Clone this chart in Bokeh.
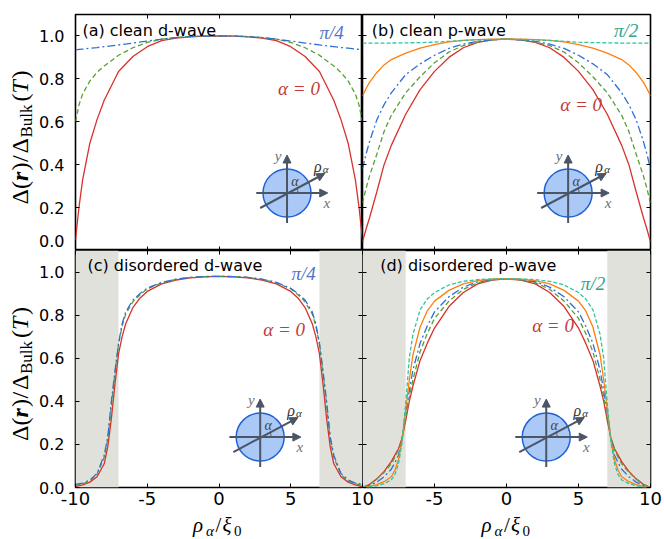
import math
from bokeh.plotting import figure
from bokeh.layouts import column, row
from bokeh.models import (Label, Arrow, NormalHead, LinearAxis, FixedTicker, Range1d,
                          NumeralTickFormatter)
from bokeh.embed import file_html
from bokeh.resources import INLINE

# ---------------------------------------------------------------------------
# Order-parameter profiles Delta(r)/Delta_Bulk(T) along rho_alpha/xi_0.
# Values are listed for rho <= 0; the profiles are symmetric about rho = 0.
# ---------------------------------------------------------------------------
rho_clean = [-10, -9.75, -9.5, -9, -8.5, -8, -7, -6, -5, -4, -3, -2, -1, 0]

# (a) clean d-wave: alpha = 0, pi/8, pi/4
clean_d_a0 = [0.05, 0.206, 0.33, 0.50, 0.61, 0.70, 0.834, 0.904, 0.95, 0.978, 0.99, 0.996, 0.999, 1.0]
clean_d_a1 = [0.60, 0.68, 0.73, 0.79, 0.83, 0.86, 0.91, 0.945, 0.97, 0.985, 0.993, 0.998, 1.0, 1.0]
clean_d_a2 = [0.935, 0.937, 0.939, 0.943, 0.946, 0.95, 0.958, 0.967, 0.976, 0.985, 0.992, 0.997, 0.999, 1.0]

# (b) clean p-wave: alpha = 0, pi/8, pi/4, 3pi/8, pi/2
clean_p_a0 = [0.04, 0.10, 0.155, 0.275, 0.40, 0.49, 0.635, 0.75, 0.835, 0.90, 0.945, 0.97, 0.982, 0.985]
clean_p_a1 = [0.22, 0.29, 0.35, 0.45, 0.555, 0.63, 0.735, 0.81, 0.875, 0.925, 0.955, 0.972, 0.982, 0.985]
clean_p_a2 = [0.38, 0.45, 0.51, 0.61, 0.68, 0.735, 0.82, 0.87, 0.91, 0.942, 0.962, 0.975, 0.982, 0.985]
clean_p_a3 = [0.72, 0.755, 0.785, 0.83, 0.865, 0.89, 0.92, 0.943, 0.96, 0.972, 0.979, 0.983, 0.985, 0.985]
clean_p_a4 = [0.967, 0.967, 0.967, 0.967, 0.967, 0.967, 0.968, 0.969, 0.971, 0.975, 0.979, 0.982, 0.984, 0.985]

rho_dirty = [-10, -9.5, -9, -8.5, -8, -7.75, -7.5, -7.25, -7, -6.75, -6.5, -6, -5.5, -5, -4, -3, -2, -1, 0]

# (c) disordered d-wave: alpha = 0, pi/8, pi/4
dirty_d_a0 = [0.004, 0.012, 0.025, 0.05, 0.11, 0.19, 0.32, 0.48, 0.62, 0.70, 0.76, 0.835, 0.88, 0.91, 0.945, 0.963, 0.973, 0.978, 0.98]
dirty_d_a1 = [0.01, 0.017, 0.03, 0.06, 0.14, 0.225, 0.38, 0.53, 0.665, 0.75, 0.805, 0.862, 0.895, 0.922, 0.95, 0.966, 0.975, 0.979, 0.98]
dirty_d_a2 = [0.015, 0.02, 0.035, 0.065, 0.15, 0.235, 0.40, 0.54, 0.67, 0.76, 0.815, 0.87, 0.90, 0.925, 0.952, 0.967, 0.975, 0.979, 0.98]

# (d) disordered p-wave: alpha = 0, pi/8, pi/4, 3pi/8, pi/2
dirty_p_a0 = [0.0, 0.015, 0.04, 0.075, 0.12, 0.15, 0.18, 0.23, 0.31, 0.40, 0.47, 0.59, 0.67, 0.74, 0.84, 0.905, 0.945, 0.963, 0.968]
dirty_p_a1 = [0.0, 0.015, 0.04, 0.07, 0.11, 0.14, 0.175, 0.23, 0.32, 0.42, 0.50, 0.63, 0.715, 0.785, 0.865, 0.92, 0.95, 0.964, 0.968]
dirty_p_a2 = [0.0, 0.01, 0.025, 0.05, 0.085, 0.115, 0.15, 0.225, 0.35, 0.45, 0.545, 0.67, 0.75, 0.815, 0.885, 0.93, 0.955, 0.965, 0.968]
dirty_p_a3 = [0.0, 0.005, 0.013, 0.027, 0.05, 0.08, 0.13, 0.22, 0.36, 0.50, 0.615, 0.745, 0.82, 0.865, 0.915, 0.945, 0.96, 0.967, 0.969]
dirty_p_a4 = [0.0, 0.003, 0.008, 0.018, 0.035, 0.06, 0.11, 0.21, 0.39, 0.60, 0.71, 0.825, 0.875, 0.905, 0.94, 0.957, 0.965, 0.968, 0.969]

# grey bands of the disordered panels (|rho| > 7)
band_left = [-10, 7]
band_right = [-7, 10]

x_ticks = [-10, -5, 0, 5, 10]
y_ticks = [0.0, 0.2, 0.4, 0.6, 0.8, 1.0]

# ---------------------------------------------------------------------------
RED, GREEN, BLUE, ORANGE, TEAL = "#d9312b", "#5a9f35", "#2f6fd6", "#ff7f0e", "#2ec4a0"
STYLES = [(RED, "solid"), (GREEN, "5 3"), (BLUE, "8 3 2 3"), (ORANGE, "solid"), (TEAL, "4 2")]
SANS = "DejaVu Sans"
SERIF = "Liberation Serif"
MID = 0.34            # distance of a text's middle above its baseline, in em

STRIP_W = 36          # left strip holding the vertical axis titles
STRIP_H = 26          # bottom strip holding the horizontal axis titles
FW_L, FW_R = 289, 288
FH_T, FH_B = 236, 237
LEFT_B, RIGHT_B, TOP_B, BOTTOM_B = 37, 14, 14, 26
TOTAL_H = TOP_B + FH_T + FH_B + BOTTOM_B + STRIP_H


def mirror(xs, ys):
    x = list(xs) + [-v for v in reversed(xs[:-1])]
    y = list(ys) + list(reversed(ys[:-1]))
    return x, y


def add_axis(p, loc, ticks, labels=False, size="16px", standoff=0, tick=True,
             fmt="0.0", overrides=None):
    ax = LinearAxis(ticker=FixedTicker(ticks=ticks), formatter=NumeralTickFormatter(format=fmt))
    ax.axis_line_color = None
    ax.major_tick_in = 4 if tick else 0
    ax.major_tick_out = 0
    ax.major_tick_line_color = "black" if tick else None
    ax.major_tick_line_width = 1
    ax.minor_tick_line_color = None
    if labels:
        ax.major_label_text_font = SANS
        ax.major_label_text_font_size = size
        ax.major_label_text_color = "black"
        ax.major_label_standoff = standoff
        if overrides:
            ax.major_label_overrides = overrides
    else:
        ax.major_label_text_font_size = "0px"
        ax.major_label_text_color = None
        ax.major_label_standoff = 0
    p.add_layout(ax, loc)
    return ax


def panel(fw, fh, left, right, top, bottom):
    p = figure(width=fw + left + right, height=fh + top + bottom,
               x_range=Range1d(-10, 10), y_range=Range1d(0, 1.1),
               x_axis_location=None, y_axis_location=None,
               min_border_left=left, min_border_right=right,
               min_border_top=top, min_border_bottom=bottom,
               output_backend="svg", toolbar_location=None)
    p.grid.visible = False
    p.outline_line_color = "black"
    p.outline_line_width = 1.6
    p.background_fill_color = "white"
    p.border_fill_color = "white"
    p._frame_px = (fw, fh)
    return p


def strip(w, h):
    s = figure(width=w, height=h, x_range=Range1d(0, w), y_range=Range1d(0, h),
               x_axis_location=None, y_axis_location=None, min_border=0,
               output_backend="svg", toolbar_location=None)
    s.grid.visible = False
    s.outline_line_color = None
    s.background_fill_color = "white"
    s.border_fill_color = "white"
    return s


def draw_curves(p, xs, series):
    for ys, (c, dash) in zip(series, STYLES):
        x, y = mirror(xs, ys)
        p.line(x, y, line_color=c, line_width=1.3, line_dash=dash)


def text(p, x, y, s, size, color="black", font=SERIF, style="normal", align="left",
         baseline="middle", angle=0):
    p.add_layout(Label(x=x, y=y, text=s, text_font=font, text_font_style=style,
                       text_font_size=size, text_color=color, text_align=align,
                       text_baseline=baseline, angle=angle, angle_units="deg"))


def inset(p, cx, cy):
    # small sketch of the cut direction rho_alpha through the disk
    fw, fh = p._frame_px

    def pt(dx, dy):
        return cx + dx * 20.0 / fw, cy - dy * 1.1 / fh
    p.scatter([cx], [cy], size=48, marker="circle", fill_color="#abc9f7",
              line_color="#1f62d6", line_width=1.5)
    gray = "#4b5563"
    for (a, b), (c, d) in (((0, 30), (0, -38)), ((-31, 0), (41, 0)), ((-27, 15), (38, -19.5))):
        x0, y0 = pt(a, b)
        x1, y1 = pt(c, d)
        p.add_layout(Arrow(x_start=x0, y_start=y0, x_end=x1, y_end=y1, line_color=gray,
                           line_width=2,
                           end=NormalHead(size=8, fill_color=gray, line_color=gray, line_width=1)))
    p.arc(x=[cx], y=[cy], radius=11, radius_units="screen", start_angle=0,
          end_angle=math.radians(28), line_color=gray, line_width=1)
    lx, ly = pt(-9, -37)
    text(p, lx, ly, "y", "15px", "#707070", style="italic", align="center")
    lx, ly = pt(40, 10)
    text(p, lx, ly, "x", "15px", "#707070", style="italic", align="center")
    lx, ly = pt(31, -27)
    text(p, lx, ly, "ρ", "16px", "#333333", style="italic", align="center")
    lx, ly = pt(39, -24)
    text(p, lx, ly, "α", "11px", "#333333", style="italic", align="center")
    lx, ly = pt(8, -12)
    text(p, lx, ly, "α", "14px", "#444444", style="italic", align="center")


def y_title(s, center_px):
    # Delta(r)/Delta_Bulk(T), written bottom to top; baselines at x = 27.5 (main), 31.5 (sub)
    parts = [("Δ", "normal", 24, 0, 0), ("(", "normal", 24, 0, 15.5),
             ("r", "bold italic", 24, 0, 23.5), (")", "normal", 24, 0, 34),
             ("/", "normal", 24, 0, 42.5), ("Δ", "normal", 24, 0, 51),
             ("Bulk", "normal", 17, 1, 67), ("(", "normal", 24, 0, 103),
             ("T", "italic", 24, 0, 111), (")", "normal", 24, 0, 126)]
    start = center_px + 72
    for t, style, size, is_sub, off in parts:
        x = (31.5 if is_sub else 27.5) - MID * size
        text(s, x, TOTAL_H - (start - off), t, f"{size}px", style=style, angle=90)


def x_title(s, center_px):
    # rho_alpha / xi_0; baselines 7 px (main) and 3.5 px (sub) above the page bottom
    parts = [("ρ", "italic", 21, 0, 13.0), ("α", "italic", 15, 1, 9.5),
             ("/", "normal", 21, 0, 7.0), ("ξ", "italic", 21, 0, 11.5),
             ("0", "normal", 15, 1, 9.0)]
    total = sum(w for *_, w in parts)
    pos = center_px - STRIP_W - total / 2.0
    for t, style, size, is_sub, w in parts:
        yb = 3.5 if is_sub else 7
        text(s, pos, yb + MID * size, t, f"{size}px", style=style)
        pos += w


# ---------------------------------------------------------------------------
pa = panel(FW_L, FH_T, LEFT_B, 0, TOP_B, 0)
pb = panel(FW_R, FH_T, 0, RIGHT_B, TOP_B, 0)
pc = panel(FW_L, FH_B, LEFT_B, 0, 0, BOTTOM_B)
pd = panel(FW_R, FH_B, 0, RIGHT_B, 0, BOTTOM_B)

for p in (pa, pb, pc, pd):
    add_axis(p, "above", x_ticks)
    add_axis(p, "right", y_ticks)
add_axis(pa, "below", x_ticks)
add_axis(pb, "below", x_ticks)
add_axis(pb, "left", y_ticks)
add_axis(pd, "left", y_ticks)

# top-left: tick marks on the frame, labels on an outer axis (lowest label kept inside the panel)
add_axis(pa, "left", y_ticks)
add_axis(pa, "left", [0.042] + y_ticks[1:], labels=True, size="16px", standoff=11, tick=False)
add_axis(pc, "left", y_ticks, labels=True, size="16px", standoff=11)
# the shared "10" at the seam is split over the two bottom panels
add_axis(pc, "below", x_ticks, labels=True, size="18px", standoff=4, fmt="0",
         overrides={10: "1"})
add_axis(pd, "below", x_ticks, labels=True, size="18px", standoff=4, fmt="0",
         overrides={-10: "0"})

for p in (pc, pd):
    p.quad(left=band_left, right=band_right, bottom=0, top=1.1,
           fill_color="#e1e1db", line_color=None)

draw_curves(pa, rho_clean, [clean_d_a0, clean_d_a1, clean_d_a2])
draw_curves(pb, rho_clean, [clean_p_a0, clean_p_a1, clean_p_a2, clean_p_a3, clean_p_a4])
draw_curves(pc, rho_dirty, [dirty_d_a0, dirty_d_a1, dirty_d_a2])
draw_curves(pd, rho_dirty, [dirty_p_a0, dirty_p_a1, dirty_p_a2, dirty_p_a3, dirty_p_a4])

# panel captions
text(pa, -9.52, 1.025, "(a) clean d-wave", "16px", font=SANS)
text(pb, -9.35, 1.027, "(b) clean p-wave", "16px", font=SANS)
text(pc, -9.17, 1.03, "(c) disordered d-wave", "16px", font=SANS)
text(pd, -8.77, 1.03, "(d) disordered p-wave", "16px", font=SANS)

# curve annotations
A_RED, A_BLUE, A_TEAL = "#c23b3b", "#4f74c8", "#2fa48c"
text(pa, 8.69, 1.017, "π/4", "19px", A_BLUE, style="italic", align="right")
text(pa, 4.12, 0.756, "α = 0", "19px", A_RED, style="italic")
text(pb, 9.15, 1.025, "π/2", "19px", A_TEAL, style="italic", align="right")
text(pb, 3.73, 0.68, "α = 0", "19px", A_RED, style="italic")
text(pc, 6.75, 0.993, "π/4", "19px", A_BLUE, style="italic", align="right")
text(pc, 3.08, 0.733, "α = 0", "19px", A_RED, style="italic")
text(pd, 6.85, 0.947, "π/2", "19px", A_TEAL, style="italic", align="right")
text(pd, 1.78, 0.752, "α = 0", "19px", A_RED, style="italic")

inset(pa, 4.74, 0.268)
inset(pb, 4.28, 0.268)
inset(pc, 2.87, 0.234)
inset(pd, 2.76, 0.234)

# axis titles live in thin strips next to the panels
left_strip = strip(STRIP_W, TOTAL_H)
y_title(left_strip, TOP_B + FH_T / 2.0)
y_title(left_strip, TOP_B + FH_T + FH_B / 2.0)
bottom_strip = strip(LEFT_B + FW_L + FW_R + RIGHT_B, STRIP_H)
x_title(bottom_strip, STRIP_W + LEFT_B + FW_L / 2.0)
x_title(bottom_strip, STRIP_W + LEFT_B + FW_L + FW_R / 2.0)

layout = row(left_strip, column(row(pa, pb), row(pc, pd), bottom_strip))
open("out.html", "w").write(file_html(layout, INLINE))
